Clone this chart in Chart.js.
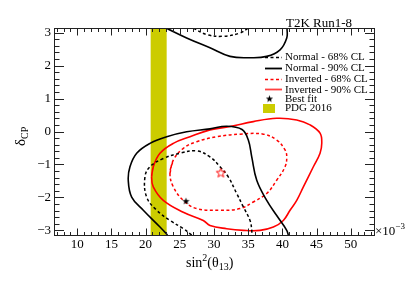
<!DOCTYPE html>
<html>
<head>
<meta charset="utf-8">
<script src="https://cdn.jsdelivr.net/npm/chart.js@4.4.1/dist/chart.umd.min.js"></script>
<style>
  html, body { margin: 0; padding: 0; background: #fff; }
</style>
</head>
<body>
<canvas id="contourChart" width="415" height="281"></canvas>
<script>
// axis ticks (sin^2 theta13 in units of 1e-3, delta_CP in rad)
const xTicks = [10, 15, 20, 25, 30, 35, 40, 45, 50];
const yTicks = [-3, -2, -1, 0, 1, 2, 3];
const xRange = [6.6, 53.4];
const yRange = [-Math.PI, Math.PI];

// Normal hierarchy, 68% CL (two open pieces)
const normal68Upper = [[26.97, 3.1416], [28.93, 2.94], [31.36, 2.89], [33.8, 2.99], [35.02, 3.1416]];
const normal68Lower = [[26.74, -3.1416], [25.51, -2.95], [23.56, -2.70], [21.62, -2.39], [20.15, -1.99],
  [19.9, -1.38], [20.64, -1.07], [22.58, -0.82], [25.03, -0.66], [27.47, -0.59], [29.41, -0.77],
  [30.88, -1.07], [32.09, -1.38], [33.32, -1.88], [34.29, -2.29], [35.27, -2.70], [35.52, -3.0], [35.52, -3.1416]];

// Normal hierarchy, 90% CL (two open pieces)
const normal90Upper = [[22.98, 3.1416], [26.0, 2.84], [29.41, 2.54], [32.34, 2.28], [35.27, 2.24],
  [37.71, 2.28], [39.66, 2.48], [40.64, 2.84], [40.68, 3.1416]];
const normal90Lower = [[23.2, -3.1416], [22.1, -2.90], [19.66, -2.39], [17.96, -1.99], [17.46, -1.48],
  [17.71, -1.07], [18.69, -0.66], [20.64, -0.36], [23.08, -0.16], [26.0, -0.01], [29.41, 0.08],
  [31.86, 0.16], [34.1, 0.06], [35.02, -0.26], [35.52, -0.77], [36.25, -1.48], [37.71, -2.09],
  [39.17, -2.55], [40.64, -3.0], [40.87, -3.1416]];

// Inverted hierarchy, 68% CL (closed)
const inverted68 = [[23.56, -1.27], [24.05, -0.87], [25.51, -0.51], [27.47, -0.31], [30.39, -0.16],
  [33.8, -0.08], [37.21, -0.08], [39.17, -0.26], [40.39, -0.56], [40.64, -0.77], [40.39, -1.07],
  [39.17, -1.48], [37.71, -1.88], [35.75, -2.14], [33.8, -2.34], [30.88, -2.39], [27.47, -2.34],
  [25.51, -2.09], [24.05, -1.68]];

// Inverted hierarchy, 90% CL (closed)
const inverted90 = [[20.88, -1.38], [21.12, -1.07], [22.1, -0.66], [24.05, -0.36], [26.49, -0.16],
  [29.41, 0.05], [32.34, 0.15], [35.75, 0.30], [39.17, 0.40], [42.1, 0.35], [44.05, 0.20],
  [45.51, -0.05], [45.76, -0.36], [45.51, -0.66], [44.53, -1.07], [43.07, -1.68], [42.1, -2.09],
  [41.12, -2.39], [40.14, -2.70], [38.68, -2.90], [36.73, -3.0], [34.29, -3.0], [31.86, -2.95],
  [29.41, -2.85], [28.43, -2.70], [25.51, -2.45], [22.58, -2.09], [21.12, -1.68]];

// best fit points
const bestFitNormal = [25.9, -2.12];
const bestFitInverted = [31.0, -1.26];

// PDG 2016 band
const pdgBand = [20.7, 23.1];

const serif = "'Liberation Serif', 'DejaVu Serif', serif";

function pts(list) {
  return list.map(p => ({x: p[0], y: p[1]}));
}
function closed(list) {
  return pts(list.concat([list[0], list[1]]));
}

function makeStar(size, fill, stroke) {
  const c = document.createElement('canvas');
  c.width = size; c.height = size;
  const g = c.getContext('2d');
  const cx = size / 2, cy = size / 2, R = size / 2 - 0.7, r = R * 0.42;
  g.beginPath();
  for (let i = 0; i < 10; i++) {
    const rad = i % 2 === 0 ? R : r;
    const a = -Math.PI / 2 + i * Math.PI / 5;
    const px = cx + rad * Math.cos(a), py = cy + rad * Math.sin(a);
    if (i === 0) g.moveTo(px, py); else g.lineTo(px, py);
  }
  g.closePath();
  if (fill) { g.fillStyle = fill; g.fill(); }
  if (stroke) { g.strokeStyle = stroke; g.lineWidth = 1; g.stroke(); }
  return c;
}

const starBlack = makeStar(9, '#000', null);
const starRed = makeStar(11, null, '#ff0000');

function lineSet(label, data, color, dashed) {
  return {
    label: label,
    data: data,
    showLine: true,
    borderColor: color,
    borderWidth: dashed ? 1.5 : 1.6,
    borderDash: dashed ? [3, 2.5] : [],
    pointRadius: 0,
    tension: 0.4,
    fill: false,
    order: 1
  };
}

// frame, inside ticks, titles, legend
const decorations = {
  id: 'decorations',
  afterDraw(chart) {
    const ctx = chart.ctx;
    const a = chart.chartArea;
    const x = chart.scales.x, y = chart.scales.y;
    const L = Math.round(a.left) + 0.5, R = Math.round(a.right) + 0.5;
    const T = Math.round(a.top) + 0.5, B = Math.round(a.bottom) + 0.5;
    ctx.save();
    ctx.strokeStyle = '#222';
    ctx.lineWidth = 1;
    ctx.setLineDash([]);
    ctx.strokeRect(L, T, R - L, B - T);

    ctx.beginPath();
    for (let v = Math.ceil(xRange[0]); v <= Math.floor(xRange[1]); v++) {
      const len = v % 5 === 0 ? 7 : 3.5;
      const px = Math.round(x.getPixelForValue(v)) + 0.5;
      ctx.moveTo(px, B); ctx.lineTo(px, B - len);
      ctx.moveTo(px, T); ctx.lineTo(px, T + len);
    }
    for (let k = -15; k <= 15; k++) {
      const len = k % 5 === 0 ? 9.5 : 5;
      const py = Math.round(y.getPixelForValue(k / 5)) + 0.5;
      ctx.moveTo(L, py); ctx.lineTo(L + len, py);
      ctx.moveTo(R, py); ctx.lineTo(R - len, py);
    }
    ctx.stroke();

    ctx.fillStyle = '#000';
    ctx.textBaseline = 'alphabetic';
    ctx.textAlign = 'left';

    // title
    ctx.font = '13px ' + serif;
    ctx.fillText('T2K Run1-8', 286, 26.5);

    // x exponent
    ctx.fillText('\u00d710', 375, 235);
    const w10 = ctx.measureText('\u00d710').width;
    ctx.font = '9px ' + serif;
    ctx.fillText('\u22123', 375 + w10, 229);

    // x title: sin^2(theta_13)
    let cx = 186;
    const by = 267;
    ctx.font = '14px ' + serif;
    ctx.fillText('sin', cx, by); cx += ctx.measureText('sin').width;
    ctx.font = '10px ' + serif;
    ctx.fillText('2', cx, by - 6); cx += ctx.measureText('2').width;
    ctx.font = '14px ' + serif;
    ctx.fillText('(\u03b8', cx, by); cx += ctx.measureText('(\u03b8').width;
    ctx.font = '10px ' + serif;
    ctx.fillText('13', cx, by + 3); cx += ctx.measureText('13').width;
    ctx.font = '14px ' + serif;
    ctx.fillText(')', cx, by);

    // y title: delta_CP
    ctx.save();
    ctx.translate(25, 146);
    ctx.rotate(-Math.PI / 2);
    ctx.font = '15px ' + serif;
    ctx.fillText('\u03b4', 0, 0);
    const wd = ctx.measureText('\u03b4').width;
    ctx.font = '10px ' + serif;
    ctx.fillText('CP', wd, 3);
    ctx.restore();

    // legend
    const rows = [
      {text: 'Normal - 68% CL', color: '#000', dash: true, y: 57},
      {text: 'Normal - 90% CL', color: '#000', dash: false, y: 67.7},
      {text: 'Inverted - 68% CL', color: '#ff0000', dash: true, y: 78.5},
      {text: 'Inverted - 90% CL', color: '#ff4040', dash: false, y: 89.2}
    ];
    ctx.font = '11px ' + serif;
    ctx.textBaseline = 'middle';
    rows.forEach(r => {
      ctx.beginPath();
      ctx.strokeStyle = r.color;
      ctx.lineWidth = r.dash ? 1.5 : 1.8;
      ctx.setLineDash(r.dash ? [3, 2.5] : []);
      ctx.moveTo(265, Math.round(r.y) + 0.5);
      ctx.lineTo(282, Math.round(r.y) + 0.5);
      ctx.stroke();
      ctx.fillStyle = '#000';
      ctx.fillText(r.text, 285, r.y + 0.5);
    });
    ctx.setLineDash([]);
    ctx.drawImage(starBlack, 265, 94.5);
    ctx.fillText('Best fit', 285, 99);
    ctx.fillStyle = '#cccc00';
    ctx.fillRect(263, 104, 12, 9);
    ctx.fillStyle = '#000';
    ctx.fillText('PDG 2016', 285, 108.5);
    ctx.restore();
  }
};

const ctx = document.getElementById('contourChart').getContext('2d');
new Chart(ctx, {
  type: 'scatter',
  data: {
    datasets: [
      lineSet('Normal - 68% CL', pts(normal68Upper), '#000', true),
      lineSet('Normal - 68% CL', pts(normal68Lower), '#000', true),
      lineSet('Normal - 90% CL', pts(normal90Upper), '#000', false),
      lineSet('Normal - 90% CL', pts(normal90Lower), '#000', false),
      lineSet('Inverted - 68% CL', closed(inverted68), '#ff0000', true),
      lineSet('Inverted - 90% CL', closed(inverted90), '#ff0000', false),
      {
        label: 'Best fit',
        data: [{x: bestFitNormal[0], y: bestFitNormal[1]}],
        pointStyle: starBlack,
        pointRadius: 5,
        order: 0
      },
      {
        label: 'Best fit inverted',
        data: [{x: bestFitInverted[0], y: bestFitInverted[1]}],
        pointStyle: starRed,
        pointRadius: 6,
        order: 0
      },
      {
        label: 'PDG 2016',
        data: [{x: pdgBand[0], y: yRange[1]}, {x: pdgBand[1], y: yRange[1]}],
        showLine: true,
        borderWidth: 0,
        pointRadius: 0,
        backgroundColor: '#cccc00',
        fill: {value: yRange[0]},
        order: 5
      }
    ]
  },
  options: {
    responsive: false,
    animation: false,
    layout: {padding: {top: 28, right: 41, left: 0, bottom: 0}},
    plugins: {
      legend: {display: false},
      tooltip: {enabled: false},
      title: {display: false}
    },
    scales: {
      x: {
        type: 'linear',
        min: xRange[0],
        max: xRange[1],
        afterBuildTicks: s => { s.ticks = xTicks.map(v => ({value: v})); },
        afterFit: s => { s.height = 46; },
        grid: {display: false, drawTicks: false},
        border: {display: false},
        ticks: {
          color: '#000',
          padding: 2,
          maxRotation: 0,
          autoSkip: false,
          font: {family: serif, size: 13}
        }
      },
      y: {
        type: 'linear',
        min: yRange[0],
        max: yRange[1],
        afterBuildTicks: s => { s.ticks = yTicks.map(v => ({value: v})); },
        afterFit: s => { s.width = 54; },
        grid: {display: false, drawTicks: false},
        border: {display: false},
        ticks: {
          color: '#000',
          padding: 3,
          font: {family: serif, size: 13},
          callback: v => v < 0 ? '\u2212' + (-v) : String(v)
        }
      }
    }
  },
  plugins: [decorations]
});
</script>
</body>
</html>
